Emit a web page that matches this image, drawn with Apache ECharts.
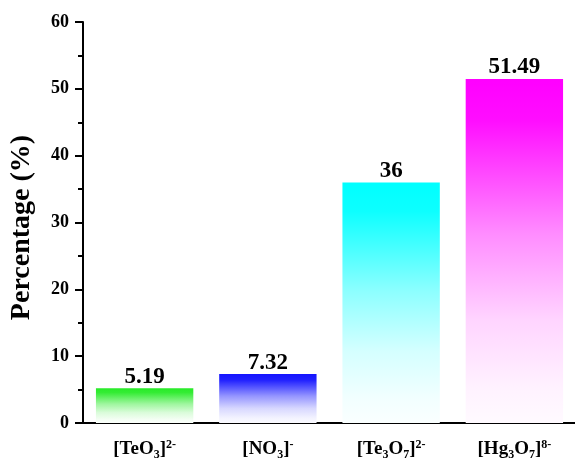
<!DOCTYPE html>
<html><head><meta charset="utf-8">
<script src="https://cdn.jsdelivr.net/npm/echarts@6/dist/echarts.min.js"></script>
<style>html,body{margin:0;padding:0;background:#fff}#c{width:575px;height:458px}</style>
</head><body><div id="c"></div>
<script>
var categories = ['[TeO{sub|3}]{sup|2-}', '[NO{sub|3}]{sup|-}', '[Te{sub|3}O{sub|7}]{sup|2-}', '[Hg{sub|3}O{sub|7}]{sup|8-}'];
var values = [5.19, 7.32, 36, 51.49];
var yTicks = [0, 10, 20, 30, 40, 50, 60];

var topColors = [[40, 235, 40], [20, 20, 255], [0, 255, 255], [255, 0, 255]];
var font = '"Liberation Serif","Times New Roman",serif';
function mix(c, t) {
  return 'rgb(' + c.map(function (v) { return Math.round(v + (255 - v) * t); }).join(',') + ')';
}
var fade = [[0, 0], [0.12, 0.05], [0.45, 0.55], [0.7, 0.83], [0.9, 0.95], [1, 0.98]];
var chart = echarts.init(document.getElementById('c'));
var data = values.map(function (v, i) {
  return {
    value: v,
    itemStyle: {
      color: new echarts.graphic.LinearGradient(0, 0, 0, 1, fade.map(function (f) {
        return { offset: f[0], color: mix(topColors[i], f[1]) };
      }))
    }
  };
});
chart.setOption({
  animation: false,
  grid: { left: 83, right: -1, top: 22, bottom: 35, containLabel: false, outerBoundsMode: 'none' },
  xAxis: [{
    type: 'category',
    data: categories,
    axisLine: { lineStyle: { color: '#000', width: 2 } },
    axisTick: { alignWithLabel: true, length: 7, lineStyle: { color: '#000', width: 2 } },
    axisLabel: {
      interval: 0,
      margin: 15,
      color: '#000',
      fontFamily: font,
      fontWeight: 'bold',
      fontSize: 19,
      rich: {
        sub: { fontFamily: font, fontWeight: 'bold', fontSize: 12, color: '#000', padding: [11, 0, 0, 0] },
        sup: { fontFamily: font, fontWeight: 'bold', fontSize: 12, color: '#000', padding: [0, 0, 9, 0] }
      }
    }
  }, {
    type: 'category',
    position: 'top',
    data: categories,
    axisLine: { lineStyle: { color: '#000', width: 2 } },
    axisTick: { show: false },
    axisLabel: { show: false }
  }],
  yAxis: [{
    type: 'value',
    min: 0, max: 60, interval: 10,
    name: 'Percentage (%)',
    nameLocation: 'middle',
    nameGap: 47,
    nameTextStyle: { color: '#000', fontFamily: font, fontWeight: 'bold', fontSize: 28, padding: [0, 10, 0, 0] },
    axisLine: { show: true, lineStyle: { color: '#000', width: 2 } },
    axisTick: { show: true, length: 8, lineStyle: { color: '#000', width: 2 } },
    minorTick: { show: true, splitNumber: 2, length: 5, lineStyle: { color: '#000', width: 2 } },
    splitLine: { show: false },
    axisLabel: { color: '#000', fontFamily: font, fontWeight: 'bold', fontSize: 18, margin: 14 }
  }, {
    type: 'value',
    position: 'right',
    min: 0, max: 60, interval: 10,
    axisLine: { show: true, lineStyle: { color: '#ccc', width: 2 } },
    axisTick: { show: false },
    axisLabel: { show: false },
    splitLine: { show: false }
  }],
  series: [{
    type: 'bar',
    data: data,
    barWidth: '79%',
    label: {
      show: true,
      position: 'top',
      distance: 0,
      color: '#000',
      fontFamily: font,
      fontWeight: 'bold',
      fontSize: 23
    }
  }]
});
</script></body></html>
